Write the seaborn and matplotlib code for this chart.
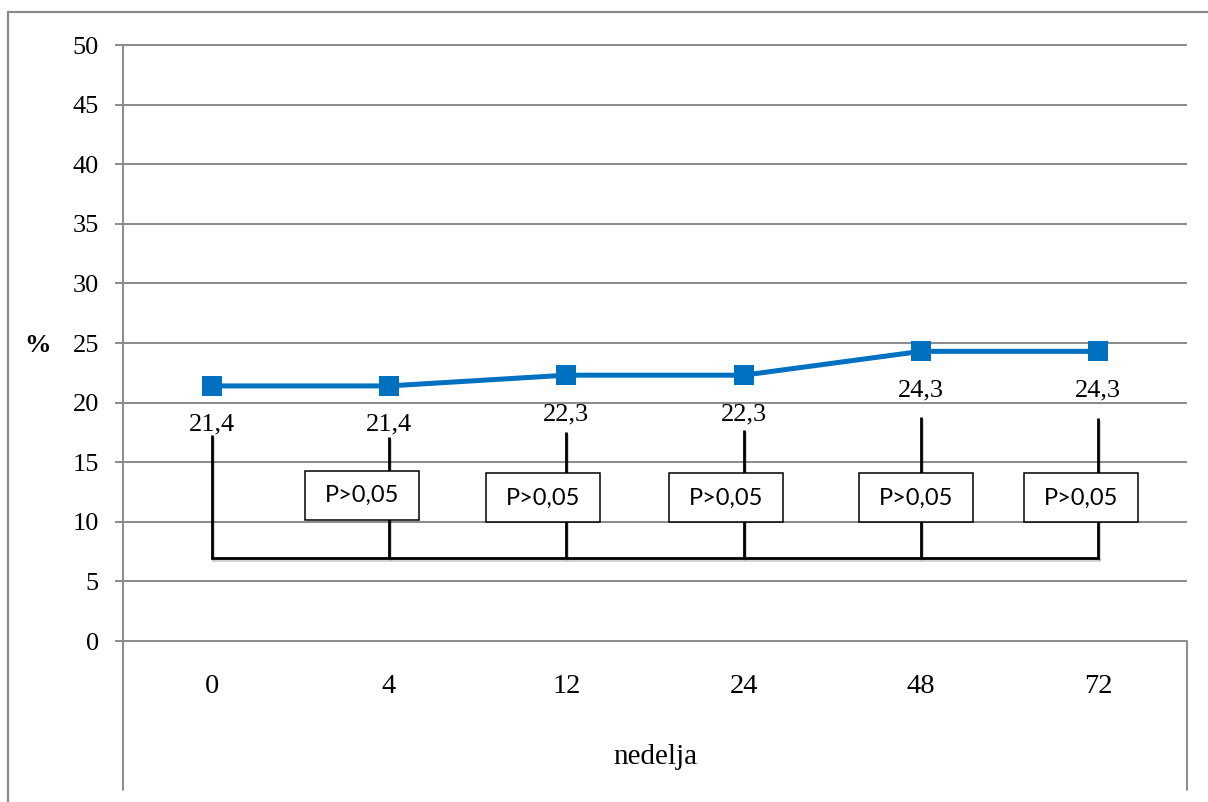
import matplotlib
matplotlib.use("Agg")
import matplotlib.pyplot as plt
import matplotlib.patheffects as pe
from matplotlib.lines import Line2D
from matplotlib.patches import Rectangle
import pandas as pd
import seaborn as sns

# --- data -------------------------------------------------------------
weeks = ["0", "4", "12", "24", "48", "72"]
percent = [21.4, 21.4, 22.3, 22.3, 24.3, 24.3]
y_ticks = [0, 5, 10, 15, 20, 25, 30, 35, 40, 45, 50]
x_title = "nedelja"
y_title = "%"

# significance brackets: every week compared with week 0
bracket_tops = [17.3, 17.1, 17.5, 17.7, 18.8, 18.7]
bracket_base = 7.0
test_weeks = ["4", "12", "24", "48", "72"]
test_text = ["P>0,05", "P>0,05", "P>0,05", "P>0,05", "P>0,05"]

# --- layout -----------------------------------------------------------
W, H = 1208, 802
L, R, T, B = 123, 1187, 45, 641          # plot area in pixels
CAT_BOTTOM = 790                          # lower end of the category frame
box_shift = [-0.15, -0.13, -0.10, -0.03, -0.10]
box_y = [12.2, 12.0, 12.0, 12.0, 12.0]
GRID = "#8a8a8a"
BLUE = "#0070C0"

sns.set_theme(style="white")
plt.rcParams["font.family"] = ["Liberation Serif", "DejaVu Serif"]

fig = plt.figure(figsize=(W / 100, H / 100), dpi=100)
ax = fig.add_axes([L / W, 1 - B / H, (R - L) / W, (B - T) / H])

df = pd.DataFrame({"week": weeks, "pct": percent})
sns.pointplot(data=df, x="week", y="pct", order=weeks, color=BLUE,
              markers="s", errorbar=None, ax=ax,
              markersize=15, markeredgewidth=0, linewidth=3.6, zorder=6)

n = len(weeks)
ax.set_xlim(-0.5, n - 0.5)
ax.set_ylim(0, 50)
for s in ax.spines.values():
    s.set_visible(False)

# horizontal gridlines (unclipped so the 0 and 50 lines keep full width)
ax.hlines(y_ticks, -0.5, n - 0.5, color=GRID, lw=1.4, clip_on=False, zorder=1)
# value axis line, continued down as the left edge of the category frame
ext = (CAT_BOTTOM - B) / (B - T)
ax.plot([0, 0], [-ext, 1], transform=ax.transAxes, color=GRID, lw=1.4,
        clip_on=False, zorder=1)
ax.plot([1, 1], [-ext, 0], transform=ax.transAxes, color=GRID, lw=1.4,
        clip_on=False, zorder=1)

ax.set_yticks(y_ticks)
ax.set_yticklabels([str(v) for v in y_ticks])
ax.tick_params(axis="y", left=True, length=5.8, width=1.4, color=GRID,
               direction="out", pad=11.5, labelsize=19, labelcolor="black")
ax.set_xticks(range(n))
ax.set_xticklabels(weeks)
ax.tick_params(axis="x", bottom=False, length=0, pad=24, labelsize=20.5,
               labelcolor="black")

ax.set_xlabel(x_title, fontsize=21, color="black", va="center")
ax.xaxis.set_label_coords(0.5, -(757 - B) / (B - T))
ax.set_ylabel(y_title, fontsize=19, fontweight="bold", rotation=0,
              color="black", ha="center", va="center")
ax.yaxis.set_label_coords((37 - L) / (R - L), (B - 345) / (B - T))

# data labels below the points
for i, v in enumerate(percent):
    ax.annotate(f"{v:.1f}".replace(".", ","), (i, v), xytext=(0, -28),
                textcoords="offset points", ha="center", va="center",
                fontsize=19, color="black", zorder=7)

# brackets
shadow = [pe.SimpleLineShadow(offset=(0.8, -1.5), alpha=0.18, shadow_color="black"),
          pe.Normal()]
for i, top in enumerate(bracket_tops):
    ax.plot([i, i], [bracket_base, top], color="black", lw=2,
            solid_capstyle="butt", zorder=3, path_effects=shadow)
ax.plot([0, n - 1], [bracket_base, bracket_base], color="black", lw=2,
        solid_capstyle="projecting", zorder=3, path_effects=shadow)

# test result boxes
px_per_cat = (R - L) / n
px_per_unit = (B - T) / 50
bw = 114 / px_per_cat
bh = 49 / px_per_unit
for w, txt, dx, cy in zip(test_weeks, test_text, box_shift, box_y):
    cx = weeks.index(w) + dx
    ax.add_patch(Rectangle((cx - bw / 2, cy - bh / 2), bw, bh,
                           facecolor="white", edgecolor="black", lw=1.1,
                           zorder=4))
    ax.text(cx, cy, txt, ha="center", va="center", fontsize=17,
            family=["Lato", "DejaVu Sans"], color="black", zorder=5)

# outer chart frame
fig.add_artist(Line2D([8 / W, 8 / W], [0, 1 - 12 / H], transform=fig.transFigure,
                      color=GRID, lw=1.6))
fig.add_artist(Line2D([8 / W, 1], [1 - 12 / H, 1 - 12 / H], transform=fig.transFigure,
                      color=GRID, lw=1.6))

fig.savefig("out.png", dpi=100)
